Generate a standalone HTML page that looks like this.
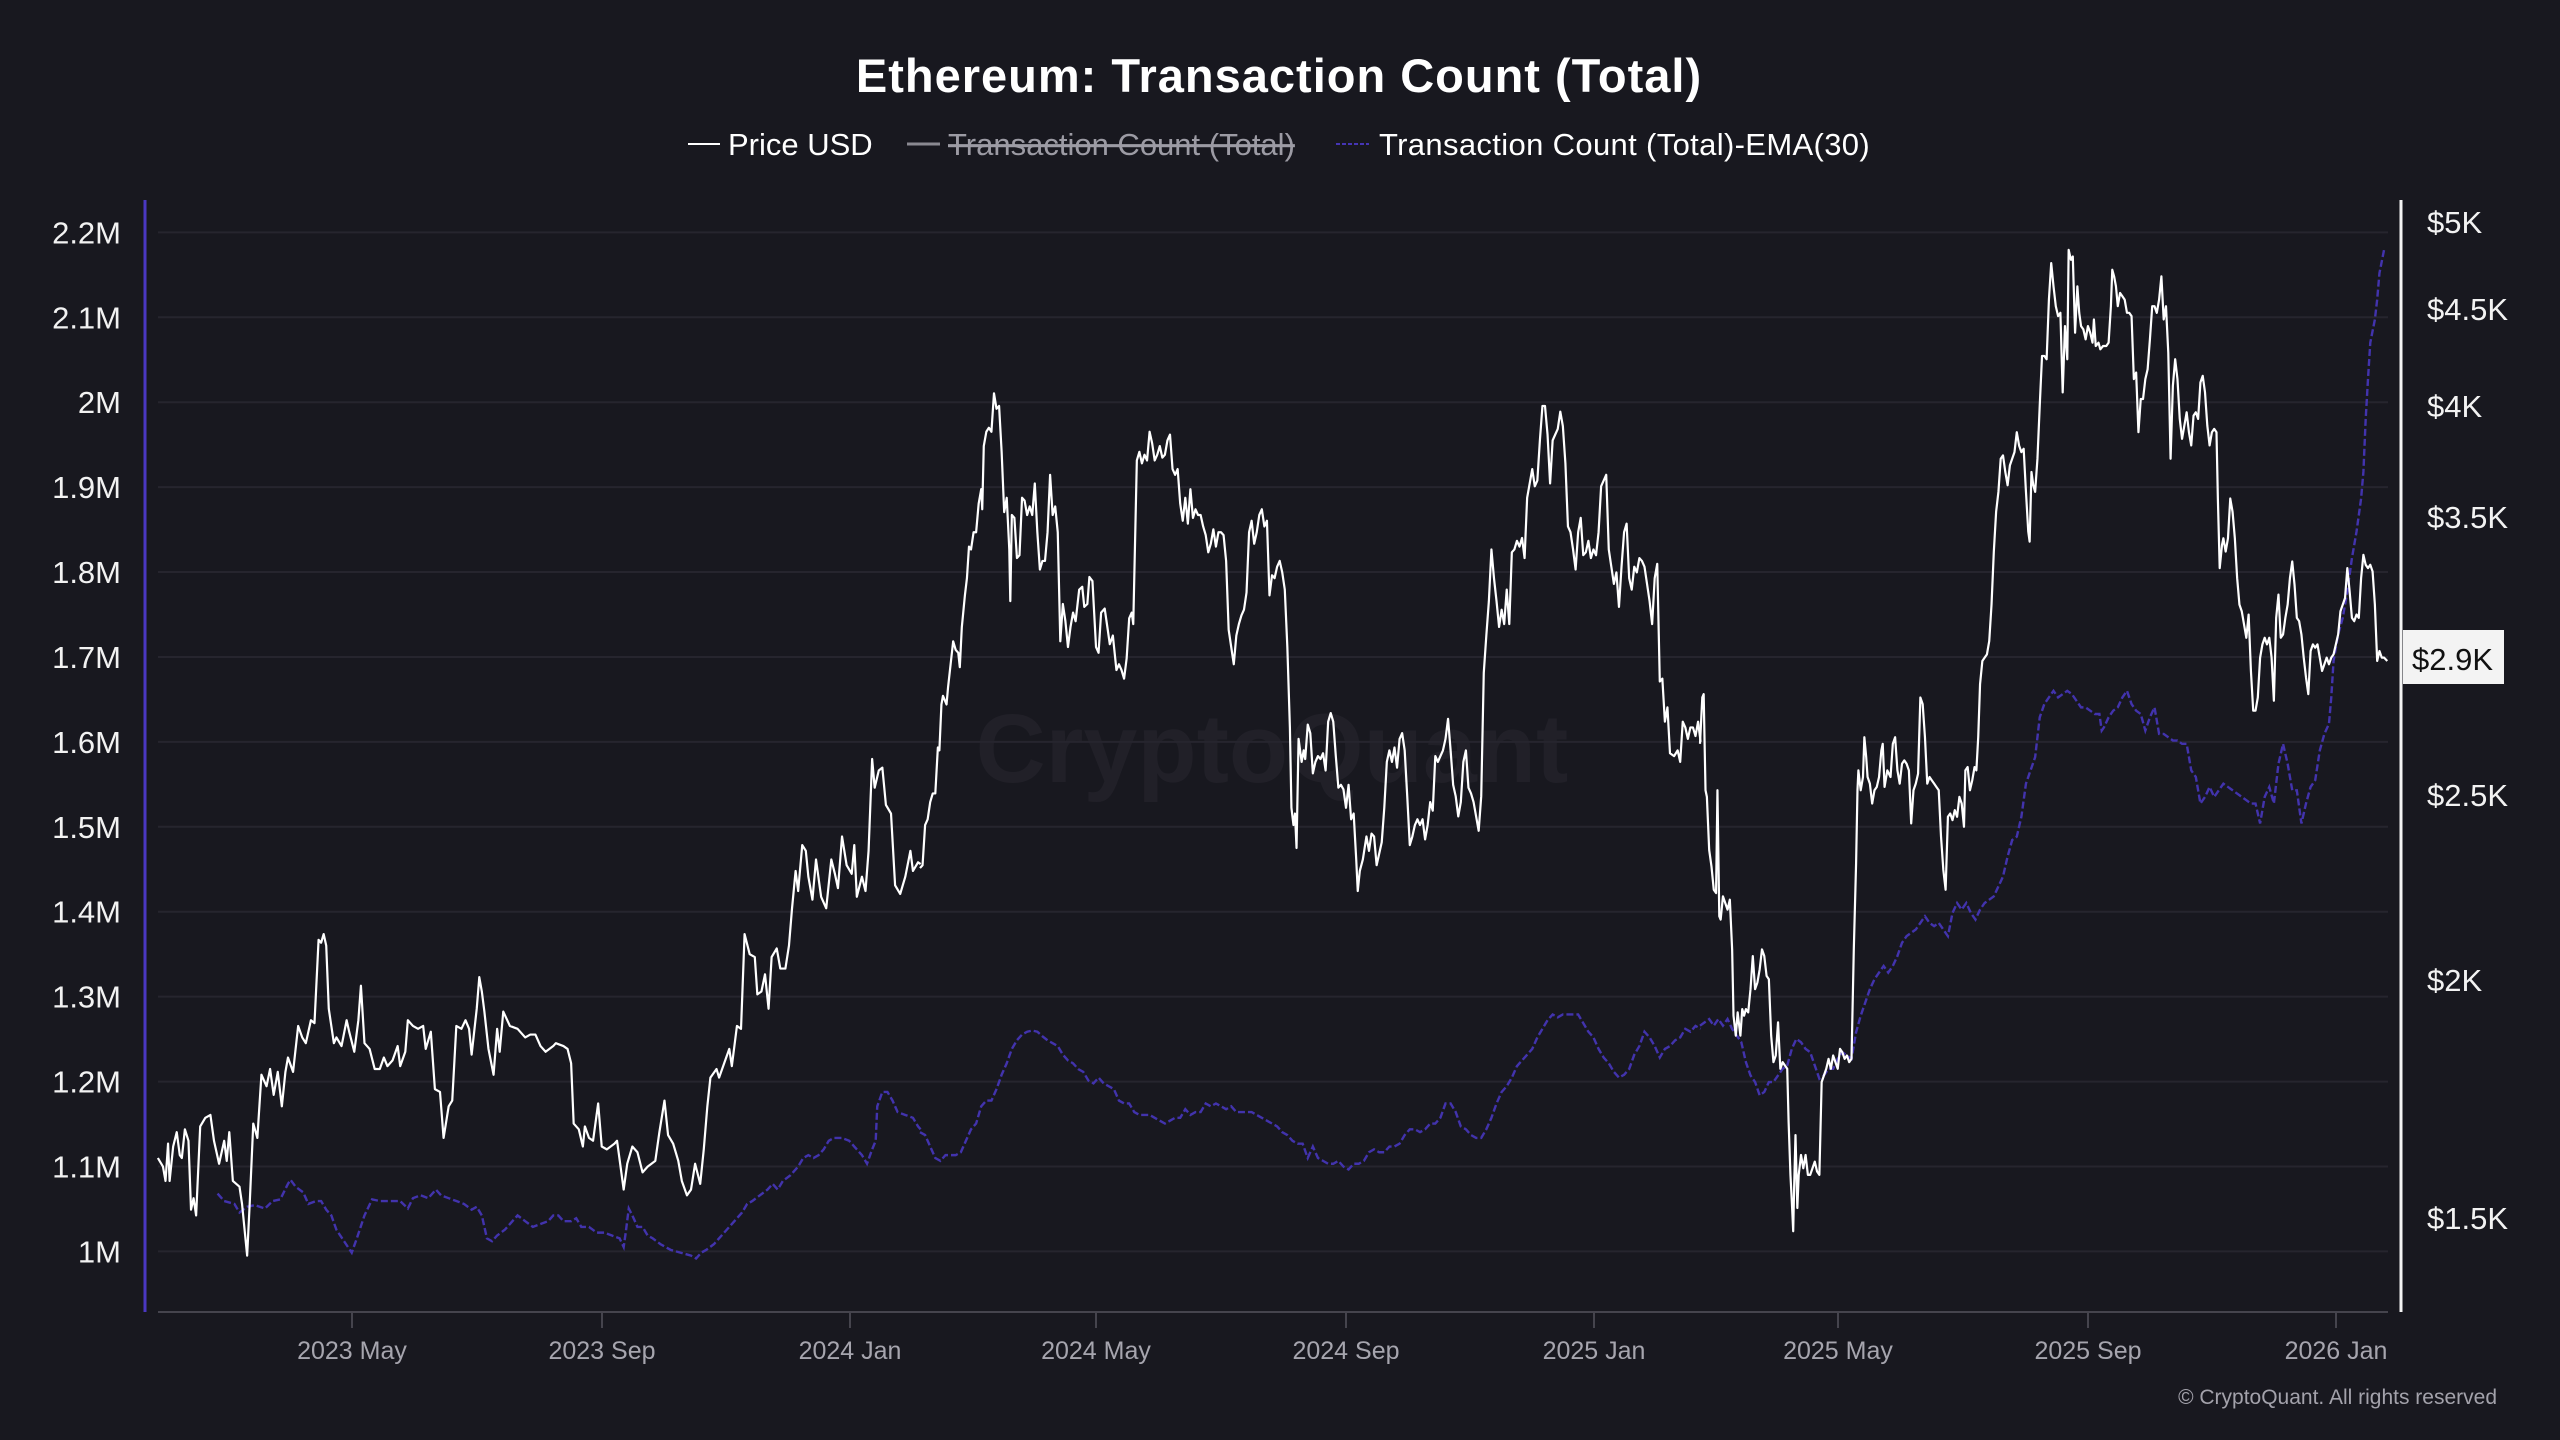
<!DOCTYPE html>
<html>
<head>
<meta charset="utf-8">
<style>
html,body{margin:0;padding:0;background:#18181f;}
svg{display:block;}
text{font-family:"Liberation Sans",Arial,sans-serif;}
</style>
</head>
<body>
<svg width="2560" height="1440" viewBox="0 0 2560 1440" xmlns="http://www.w3.org/2000/svg">
<rect x="0" y="0" width="2560" height="1440" fill="#18181f"/>

<!-- watermark -->
<text x="1272" y="782" font-size="97" font-weight="bold" fill="#212028" text-anchor="middle">CryptoQuant</text>

<!-- title -->
<text x="1279" y="92" font-size="47" font-weight="bold" fill="#ffffff" text-anchor="middle" letter-spacing="1">Ethereum: Transaction Count (Total)</text>

<!-- legend -->
<line x1="688" y1="144" x2="720" y2="144" stroke="#ffffff" stroke-width="2"/>
<text x="728" y="155" font-size="31" fill="#ffffff">Price USD</text>
<line x1="907" y1="144" x2="940" y2="144" stroke="#8a8991" stroke-width="3"/>
<text x="948" y="155" font-size="31" fill="#9c9ba4" text-decoration="line-through">Transaction Count (Total)</text>
<line x1="1336" y1="144" x2="1369" y2="144" stroke="#4535b5" stroke-width="2" stroke-dasharray="4,2"/>
<text x="1379" y="155" font-size="31" fill="#ffffff" letter-spacing="0.35">Transaction Count (Total)-EMA(30)</text>

<!-- gridlines -->
<g stroke="#26252e" stroke-width="2">
<line x1="158" y1="232.4" x2="2388" y2="232.4"/>
<line x1="158" y1="317.3" x2="2388" y2="317.3"/>
<line x1="158" y1="402.2" x2="2388" y2="402.2"/>
<line x1="158" y1="487.1" x2="2388" y2="487.1"/>
<line x1="158" y1="572.0" x2="2388" y2="572.0"/>
<line x1="158" y1="657.0" x2="2388" y2="657.0"/>
<line x1="158" y1="741.9" x2="2388" y2="741.9"/>
<line x1="158" y1="826.8" x2="2388" y2="826.8"/>
<line x1="158" y1="911.7" x2="2388" y2="911.7"/>
<line x1="158" y1="996.6" x2="2388" y2="996.6"/>
<line x1="158" y1="1081.6" x2="2388" y2="1081.6"/>
<line x1="158" y1="1166.5" x2="2388" y2="1166.5"/>
<line x1="158" y1="1251.4" x2="2388" y2="1251.4"/>
</g>

<!-- x axis -->
<line x1="158" y1="1312" x2="2388" y2="1312" stroke="#45444d" stroke-width="2"/>
<g stroke="#45444d" stroke-width="2">
<line x1="352" y1="1312" x2="352" y2="1328"/>
<line x1="602" y1="1312" x2="602" y2="1328"/>
<line x1="850" y1="1312" x2="850" y2="1328"/>
<line x1="1096" y1="1312" x2="1096" y2="1328"/>
<line x1="1346" y1="1312" x2="1346" y2="1328"/>
<line x1="1594" y1="1312" x2="1594" y2="1328"/>
<line x1="1838" y1="1312" x2="1838" y2="1328"/>
<line x1="2088" y1="1312" x2="2088" y2="1328"/>
<line x1="2336" y1="1312" x2="2336" y2="1328"/>
</g>
<g font-size="25" fill="#a6a5ae" text-anchor="middle">
<text x="352" y="1359">2023 May</text>
<text x="602" y="1359">2023 Sep</text>
<text x="850" y="1359">2024 Jan</text>
<text x="1096" y="1359">2024 May</text>
<text x="1346" y="1359">2024 Sep</text>
<text x="1594" y="1359">2025 Jan</text>
<text x="1838" y="1359">2025 May</text>
<text x="2088" y="1359">2025 Sep</text>
<text x="2336" y="1359">2026 Jan</text>
</g>

<!-- left axis -->
<line x1="145" y1="200" x2="145" y2="1312" stroke="#4a37c2" stroke-width="3"/>
<g font-size="31" fill="#f2f2f2" text-anchor="end">
<text x="121" y="243.4">2.2M</text>
<text x="121" y="328.3">2.1M</text>
<text x="121" y="413.2">2M</text>
<text x="121" y="498.1">1.9M</text>
<text x="121" y="583.0">1.8M</text>
<text x="121" y="668.0">1.7M</text>
<text x="121" y="752.9">1.6M</text>
<text x="121" y="837.8">1.5M</text>
<text x="121" y="922.7">1.4M</text>
<text x="121" y="1007.6">1.3M</text>
<text x="121" y="1092.6">1.2M</text>
<text x="121" y="1177.5">1.1M</text>
<text x="121" y="1262.4">1M</text>
</g>

<!-- right axis -->
<line x1="2401" y1="200" x2="2401" y2="1312" stroke="#f4f4f4" stroke-width="3"/>
<g font-size="31" fill="#f2f2f2">
<text x="2427" y="233">$5K</text>
<text x="2427" y="320">$4.5K</text>
<text x="2427" y="417">$4K</text>
<text x="2427" y="528">$3.5K</text>
<text x="2427" y="806">$2.5K</text>
<text x="2427" y="991">$2K</text>
<text x="2427" y="1229">$1.5K</text>
</g>

<!-- EMA series -->
<g fill="none" stroke="#4233ad" stroke-width="2.4" stroke-dasharray="7,3">
<g transform="translate(140,360) scale(0.5102,0.5741)">
<polyline vector-effect="non-scaling-stroke" points="152,1452 165,1465 185,1470 195,1485 210,1475 225,1472 245,1478 260,1465 275,1462 290,1435 295,1428 305,1440 320,1450 330,1470 345,1465 355,1465 365,1480 375,1490 385,1515 400,1535 415,1555 425,1530 440,1490 455,1462 470,1465 490,1465 510,1465 525,1478 535,1460 550,1455 565,1460 580,1445 590,1455 605,1460 620,1465 635,1470 650,1480 660,1475 670,1490 680,1530 690,1535 700,1525 715,1515 725,1505 740,1490 755,1500 770,1510 785,1505 800,1500 810,1490 820,1490 830,1500 845,1500 855,1495 865,1510 880,1510 895,1520 910,1520 925,1525 940,1530 948,1545 952,1520 958,1478 965,1490 975,1510 985,1510 995,1525 1005,1530 1020,1540 1040,1550 1060,1555 1080,1560 1090,1565 1100,1555 1110,1550 1125,1540 1140,1525 1160,1505 1180,1485 1190,1470 1200,1465 1215,1455 1230,1445 1240,1435 1250,1445 1260,1430 1275,1420 1290,1405 1300,1390 1310,1385 1320,1390 1330,1385 1340,1375 1350,1360 1360,1355 1375,1355 1390,1360 1400,1370 1415,1385 1425,1400 1435,1375 1442,1360 1445,1300 1455,1275 1465,1275 1475,1290 1485,1310 1500,1315 1515,1320 1525,1335 1530,1340"/>
</g>
<g transform="translate(920,360) scale(0.5102,0.5741)">
<polyline vector-effect="non-scaling-stroke" points="0,1345 10,1350 20,1370 30,1390 40,1395 50,1385 60,1385 70,1385 80,1380 90,1360 100,1340 110,1330 120,1300 130,1290 140,1290 150,1270 160,1245 170,1225 180,1200 190,1185 200,1175 210,1170 220,1168 230,1170 240,1178 250,1185 260,1190 270,1195 280,1210 290,1220 300,1225 310,1235 320,1240 330,1255 340,1260 350,1250 360,1260 370,1265 380,1270 390,1290 400,1295 410,1295 420,1310 430,1315 440,1315 450,1315 460,1320 470,1325 480,1330 490,1325 500,1320 510,1320 520,1305 530,1315 540,1310 550,1310 560,1295 570,1300 580,1295 590,1300 600,1305 610,1300 620,1310 630,1310 640,1310 650,1310 660,1315 670,1320 680,1325 690,1330 700,1335 710,1345 720,1350 730,1360 740,1365 750,1365 760,1390 770,1370 780,1390 790,1395 800,1400 810,1400 820,1395 830,1405 840,1410 850,1400 860,1400 870,1395 880,1380 890,1375 900,1380 910,1380 920,1370 930,1370 940,1365 950,1350 960,1340 970,1340 980,1345 990,1340 1000,1330 1010,1330 1020,1320 1030,1295 1040,1295 1050,1310 1060,1335 1070,1340 1080,1350 1090,1355 1100,1355 1110,1340 1120,1320 1130,1295 1140,1275 1150,1265 1160,1250 1170,1230 1180,1220 1190,1210 1200,1200 1210,1180 1220,1165 1230,1150 1240,1140 1250,1145 1260,1140 1270,1140 1280,1140 1290,1140 1300,1155 1310,1170 1320,1180 1330,1200 1340,1215 1350,1225 1360,1240 1370,1250 1380,1245 1390,1235 1400,1210 1410,1195 1420,1170 1430,1180 1440,1195 1450,1215 1460,1200 1470,1195 1480,1185 1490,1180 1500,1165 1510,1170 1520,1160 1530,1165"/>
</g>
<g transform="translate(1700,220) scale(0.4591,0.6631)">
<polyline vector-effect="non-scaling-stroke" points="0,1215 10,1210 20,1205 30,1215 40,1205 50,1215 60,1205 70,1220 80,1230 90,1240 100,1270 110,1290 120,1300 130,1320 140,1315 150,1300 160,1300 170,1290 180,1280 190,1275 200,1250 210,1235 220,1240 230,1250 240,1255 250,1275 260,1295 270,1290 280,1280 290,1280 300,1265 310,1255 320,1260 330,1265 340,1225 350,1200 360,1180 370,1160 380,1145 390,1135 400,1125 410,1135 420,1125 430,1110 440,1090 450,1080 460,1075 470,1070 480,1060 490,1050 500,1060 510,1065 520,1060 530,1070 540,1080 550,1045 560,1030 570,1040 580,1030 590,1045 600,1055 610,1040 620,1030 630,1025 640,1020 650,1005 660,990 670,960 680,935 690,930 700,900 710,850 720,830 730,810 740,750 750,730 760,720 770,710 780,720 790,715 800,710 810,715 820,725 830,735 840,735 850,740 860,745 870,745 875,770 880,765 890,750 900,740 910,735 920,720 930,710 940,730 950,740 960,745 970,770 980,750 990,735 1000,775 1010,775 1020,780 1030,785 1040,785 1050,790 1060,790 1070,830 1080,840 1090,880 1100,870 1110,855 1120,870 1130,860 1140,850 1150,855 1160,860 1170,865 1180,870 1190,875 1200,880 1210,880 1220,910 1230,870 1240,855 1250,880 1260,820 1270,790 1280,820 1290,860 1300,860 1310,910 1320,880 1330,855 1340,845 1350,800 1360,775 1370,760 1375,720 1380,665 1390,625 1400,600 1410,560 1420,510 1430,470 1440,420 1445,380 1450,300 1455,240 1460,185 1470,150 1475,120 1480,80 1490,45"/>
</g>
</g>

<!-- Price series -->
<g fill="none" stroke="#ffffff" stroke-width="2.2" stroke-linejoin="round">
<g transform="translate(140,360) scale(0.5102,0.5741)">
<polyline vector-effect="non-scaling-stroke" points="35,1390 45,1405 50,1430 55,1365 58,1430 65,1370 72,1345 78,1385 82,1390 88,1340 95,1360 100,1480 105,1460 110,1490 118,1335 128,1320 138,1315 145,1360 155,1400 160,1380 165,1360 170,1395 175,1345 182,1430 195,1440 200,1470 210,1560 215,1470 222,1330 230,1355 238,1245 248,1265 255,1235 262,1280 270,1240 278,1300 285,1240 290,1215 300,1240 310,1160 318,1180 325,1190 335,1150 342,1155 350,1010 355,1015 360,1000 365,1020 370,1130 380,1190 385,1180 395,1195 405,1150 410,1170 420,1205 428,1150 433,1090 440,1190 450,1200 460,1235 470,1235 478,1215 485,1230 495,1220 505,1195 510,1230 520,1205 525,1150 535,1160 545,1165 555,1160 560,1200 570,1170 578,1270 588,1275 595,1355 605,1300 612,1290 620,1160 630,1165 638,1150 645,1165 650,1210 660,1130 665,1075 670,1100 675,1135 683,1200 693,1245 700,1165 705,1205 712,1135 725,1160 740,1165 755,1180 765,1175 775,1175 785,1195 795,1205 810,1195 815,1190 830,1195 838,1200 845,1225 850,1330 860,1340 868,1370 872,1335 880,1355 888,1360 898,1295 905,1370 915,1375 930,1365 935,1360 948,1445 955,1400 965,1370 975,1380 985,1415 995,1405 1010,1395 1018,1345 1028,1290 1035,1350 1045,1365 1055,1395 1062,1430 1072,1455 1080,1445 1088,1400 1098,1435 1105,1375 1112,1300 1118,1250 1130,1235 1135,1250 1145,1225 1155,1200 1160,1230 1170,1160 1178,1165 1185,1000 1195,1035 1205,1040 1210,1105 1218,1100 1225,1070 1232,1130 1238,1040 1248,1025 1255,1060 1265,1060 1272,1020 1278,955 1285,890 1290,925 1298,845 1305,855 1310,900 1318,940 1325,870 1335,935 1345,955 1355,870 1362,895 1368,920 1376,830 1385,880 1395,895 1400,845 1405,935 1415,900 1422,925 1428,855 1435,695 1440,745 1448,715 1455,710 1462,775 1472,790 1480,915 1490,930 1500,900 1510,855 1515,890 1525,875 1530,878"/>
</g>
<g transform="translate(920,360) scale(0.5102,0.5741)">
<polyline vector-effect="non-scaling-stroke" points="0,885 5,880 10,810 15,800 20,770 25,755 30,755 35,675 38,680 42,600 45,585 52,600 55,570 60,530 65,490 70,505 75,510 78,535 82,465 88,410 92,380 96,325 100,330 105,300 110,300 115,250 120,225 122,260 125,150 130,125 135,118 140,125 145,58 150,85 155,80 160,160 165,265 170,240 175,330 177,420 180,270 185,275 190,345 195,340 200,240 205,245 210,270 215,255 220,270 225,215 230,300 235,365 240,350 245,350 250,300 255,200 260,270 265,255 270,300 275,490 280,425 285,455 290,500 295,465 300,440 305,455 312,400 318,395 322,430 328,425 332,378 338,385 345,500 350,510 355,440 362,433 368,470 372,495 378,480 385,540 390,530 395,540 400,555 405,520 410,450 415,440 418,460 425,175 430,160 435,180 440,165 445,175 450,125 455,145 460,175 465,165 470,150 475,170 480,165 485,140 490,130 495,190 500,200 505,190 510,250 515,280 520,240 525,285 530,225 535,275 540,260 545,270 550,270 555,290 560,305 565,335 570,320 575,295 580,325 585,300 590,300 595,305 600,350 605,470 610,500 615,530 620,480 625,460 630,445 635,435 640,405 645,300 650,280 655,320 660,300 665,270 670,260 675,290 680,280 685,410 690,375 695,380 700,360 705,350 710,370 715,400 720,500 725,640 728,780 732,810 735,790 738,850 742,660 748,700 752,680 755,695 760,635 765,650 770,720 775,700 780,690 785,695 790,685 795,715 800,630 805,615 810,630 815,690 820,745 825,740 830,748 835,780 840,740 845,800 850,790 855,870 858,925 862,890 868,870 875,830 880,855 885,825 890,830 895,880 900,860 905,840 910,780 915,700 920,680 925,700 930,675 935,710 940,660 945,650 950,680 955,760 960,845 965,830 970,810 975,800 980,810 985,800 990,835 995,810 1000,770 1005,785 1010,690 1015,700 1020,690 1025,680 1030,660 1035,625 1040,680 1045,740 1050,760 1055,795 1060,770 1065,700 1070,680 1075,745 1080,755 1085,770 1095,820 1100,760 1105,545 1110,480 1115,420 1120,330 1125,380 1130,420 1135,465 1140,435 1145,460 1150,400 1155,460 1160,335 1165,330 1170,315 1175,325 1180,310 1185,345 1190,240 1195,215 1200,190 1205,220 1210,210 1215,140 1220,80 1225,80 1230,130 1235,215 1240,140 1245,130 1250,120 1255,90 1260,115 1265,180 1270,290 1275,300 1280,330 1285,365 1290,300 1295,275 1300,340 1305,335 1310,315 1315,345 1320,330 1325,340 1330,300 1335,220 1340,210 1345,200 1350,330 1355,360 1360,390 1365,370 1370,430 1375,360 1380,300 1385,285 1390,380 1395,400 1400,360 1405,370 1410,345 1415,350 1420,360 1425,390 1430,420 1435,460 1440,380 1445,355 1450,560 1455,555 1460,630 1465,605 1470,685 1478,690 1485,680 1490,700 1495,630 1500,640 1505,660 1510,640 1515,640 1520,655 1525,630 1530,665"/>
</g>
<g transform="translate(1700,220) scale(0.4591,0.6631)">
<polyline vector-effect="non-scaling-stroke" points="0,790 5,720 8,715 12,860 15,870 20,950 25,975 30,1010 35,1015 38,860 42,1050 45,1055 50,1020 55,1030 60,1040 65,1025 70,1100 73,1200 78,1230 82,1195 88,1230 92,1190 96,1200 100,1190 105,1195 110,1160 115,1110 120,1160 125,1150 130,1130 135,1100 140,1110 145,1140 150,1145 155,1230 160,1270 165,1260 170,1210 175,1280 180,1270 185,1275 190,1280 193,1360 197,1440 200,1480 203,1525 205,1460 208,1380 212,1490 215,1440 220,1410 225,1430 230,1410 235,1440 240,1440 245,1430 250,1420 255,1435 260,1440 265,1300 270,1290 275,1280 280,1265 285,1280 290,1260 295,1270 300,1280 305,1250 310,1255 315,1265 320,1260 325,1270 330,1265 335,1100 340,970 343,860 345,830 350,860 355,840 358,780 362,810 365,840 370,850 375,880 380,860 385,855 390,840 395,800 398,790 402,855 408,830 415,840 420,790 425,780 430,830 435,850 440,820 445,815 450,820 455,830 460,910 465,860 470,850 475,835 480,720 485,730 490,780 495,850 500,840 505,845 510,850 515,855 520,860 525,930 530,980 535,1010 540,900 545,895 550,905 555,890 560,900 565,870 570,880 575,915 578,830 583,825 588,860 593,845 598,825 602,830 606,780 610,700 615,665 620,660 625,655 630,635 635,580 640,500 645,440 650,410 655,360 660,355 665,380 670,400 675,370 680,360 685,350 690,320 695,340 700,350 705,345 710,410 715,470 718,485 722,380 726,400 730,410 735,360 740,280 745,205 750,205 755,210 760,120 765,65 770,100 775,130 780,145 785,140 790,260 795,160 800,210 803,45 808,60 812,55 817,170 822,100 826,140 830,160 835,165 840,180 845,160 850,170 855,185 858,150 862,190 868,185 872,195 878,190 885,190 890,185 895,130 898,75 902,85 906,100 910,130 915,110 920,115 925,120 930,140 935,140 940,145 945,240 950,230 955,320 960,270 965,270 970,240 975,225 980,180 985,130 990,130 995,140 1000,120 1005,85 1010,150 1015,130 1020,200 1025,360 1030,250 1035,210 1040,240 1045,300 1050,330 1055,310 1060,290 1065,320 1070,340 1075,295 1080,290 1085,300 1090,245 1095,235 1100,260 1105,310 1110,340 1115,320 1120,315 1125,320 1128,420 1132,525 1137,490 1140,480 1145,500 1150,480 1155,420 1160,440 1165,480 1170,540 1175,580 1180,590 1185,610 1190,630 1195,595 1200,680 1205,740 1210,740 1215,720 1220,660 1225,640 1230,630 1235,640 1240,630 1245,660 1250,725 1255,600 1260,565 1265,630 1270,625 1275,600 1280,580 1285,540 1290,515 1295,550 1300,600 1305,605 1310,625 1315,660 1320,690 1325,715 1330,650 1335,640 1340,645 1345,640 1350,660 1355,680 1360,670 1365,660 1370,670 1375,660 1380,655 1385,640 1390,625 1395,590 1400,580 1405,570 1410,525 1415,560 1420,600 1425,605 1430,595 1435,600 1440,540 1445,505 1450,520 1455,525 1460,520 1465,530 1470,580 1475,665 1480,650 1485,660 1490,660 1497,665"/>
</g>
</g>

<!-- current price tag -->
<rect x="2403" y="630" width="101" height="54" fill="#f3f3f3"/>
<text x="2412" y="670" font-size="31" fill="#111111">$2.9K</text>

<!-- copyright -->
<text x="2497" y="1404" font-size="21" fill="#a3a2ab" text-anchor="end">© CryptoQuant. All rights reserved</text>
</svg>
</body>
</html>
